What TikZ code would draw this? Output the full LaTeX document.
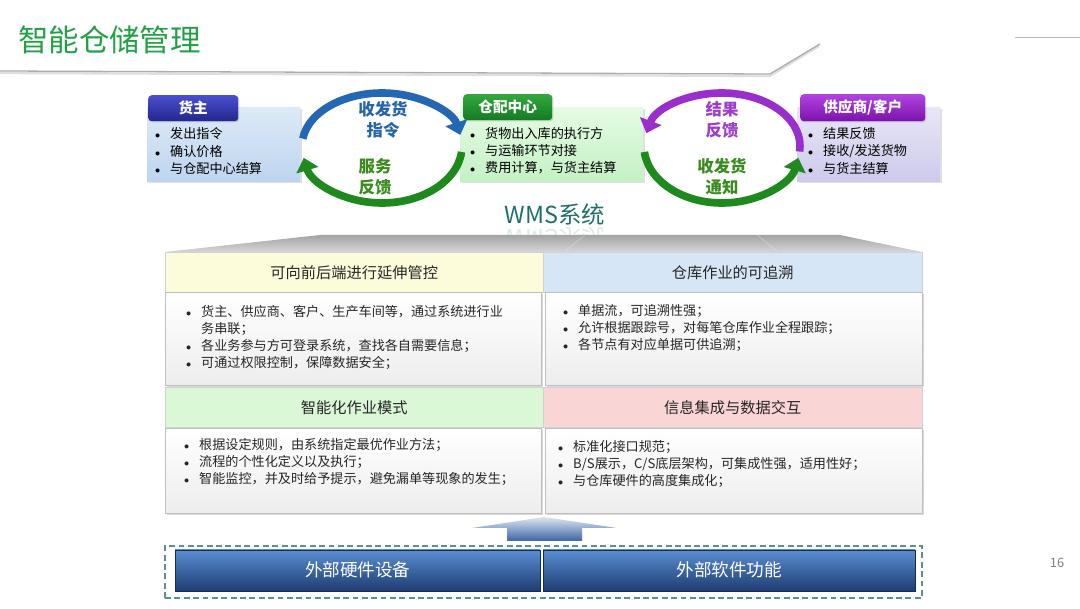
\documentclass[tikz,border=0pt]{standalone}
\usepackage{fontspec}
\setmainfont{Noto Sans CJK SC}
\usepackage{xcolor}
\usetikzlibrary{positioning,arrows.meta,shadows}

\definecolor{titlegreen}{HTML}{22A046}
\definecolor{ownerA}{HTML}{4A4FD0}
\definecolor{ownerB}{HTML}{23268C}
\definecolor{ownerbodyA}{HTML}{DDEAF8}
\definecolor{ownerbodyB}{HTML}{BDD5EF}
\definecolor{hubA}{HTML}{33A83F}
\definecolor{hubB}{HTML}{147A22}
\definecolor{hubbodyA}{HTML}{E5FBE5}
\definecolor{hubbodyB}{HTML}{C4F1C4}
\definecolor{suppA}{HTML}{B244E0}
\definecolor{suppB}{HTML}{7C12AE}
\definecolor{suppbodyA}{HTML}{E8E6F7}
\definecolor{suppbodyB}{HTML}{CDCAEB}
\definecolor{arcblue}{HTML}{2468B4}
\definecolor{arcgreen}{HTML}{1E8A1E}
\definecolor{arcpurple}{HTML}{9A2ECC}
\definecolor{lblblue}{HTML}{2464A8}
\definecolor{lblgreen}{HTML}{3A8C1E}
\definecolor{lblpurple}{HTML}{9E3CCC}
\definecolor{wmsteal}{HTML}{1E6F6B}
\definecolor{cellyellow}{HTML}{FDFCDA}
\definecolor{cellblue}{HTML}{D7E6F6}
\definecolor{cellgreen}{HTML}{DAF7D6}
\definecolor{cellpink}{HTML}{F9D5D5}
\definecolor{dashteal}{HTML}{5E8E8E}
\definecolor{barA}{HTML}{5A8ED3}
\definecolor{barB}{HTML}{1E3D72}
\definecolor{upA}{HTML}{DCE6F2}
\definecolor{upB}{HTML}{3E64A2}

\newcommand\Itm[1]{\makebox[12.75pt][l]{\scalebox{0.8}{$\bullet$}}#1}
\newcommand\Cnt[1]{\hspace*{12.75pt}#1}

\begin{document}
\begin{tikzpicture}[x=0.03cm,y=0.03cm,
        font=\fontsize{11.2}{14.6}\selectfont,
        rolebody/.style={anchor=north west,minimum height=74*0.03cm,
            drop shadow={opacity=0.25,shadow xshift=1.5pt,shadow yshift=-1.5pt}},
        rolehead/.style={anchor=north west,rounded corners=3pt,
            minimum height=26*0.03cm,text=white,
            font=\fontsize{12.5}{14}\selectfont\bfseries,
            drop shadow={opacity=0.3,shadow xshift=1pt,shadow yshift=-1pt}},
        roleitems/.style={anchor=west,align=left,inner sep=0pt},
        cycline/.style={line width=\ArcW pt,-{Triangle[width=19pt,length=11pt]}},
        cyclabel/.style={align=center,font=\fontsize{14}{18}\selectfont\bfseries},
        cellhead/.style={anchor=north west,draw=gray!35,minimum height=40*0.03cm,
            font=\fontsize{13}{15}\selectfont,text=black!85},
        cellbody/.style={anchor=north west,draw=gray!50,
            top color=white,bottom color=gray!14,
            drop shadow={opacity=0.3,shadow xshift=1.5pt,shadow yshift=-1.5pt}},
        cellitems/.style={anchor=west,align=left,inner sep=0pt,text=black!85},
        extbar/.style={anchor=south west,minimum height=41*0.03cm,
            draw=barB!70!black,top color=barA,bottom color=barB,text=white,
            font=\fontsize{15}{17}\selectfont},
    ]
    \useasboundingbox (0,0) rectangle (1080,608);
    \pgfmathsetmacro\ArcW{6.5}
    %
        % Titolo
    \node[anchor=west,text=titlegreen,font=\fontsize{26}{30}\selectfont] (title) at (14,568) {智能仓储管理};
    \draw[gray!25,line width=2pt] (0,535) -- (770,532) -- (819,562);
    \draw[gray!65,line width=1.1pt] (0,537) -- (770,534) -- (820,564);
    \draw[gray!55,line width=0.6pt] (1015,571) -- (1080,571);
    \node[text=gray,font=\fontsize{11}{13}\selectfont] (pagenum) at (1057,45) {16};
    %
        %货主
    \node[rolebody,minimum width=153*0.03cm,top color=ownerbodyA,bottom color=ownerbodyB] (ownerbody) at (147,501) {};
    \node[rolehead,minimum width=90*0.03cm,top color=ownerA,bottom color=ownerB] (ownerhead) at (148,513) {货主};
    \node[roleitems] (owneritems) at (155,457) {\Itm{发出指令}\\\Itm{确认价格}\\\Itm{与仓配中心结算}};
    %
        % 仓配中心
    \node[rolebody,minimum width=183*0.03cm,top color=hubbodyA,bottom color=hubbodyB] (hubbody) at (460,501) {};
    \node[rolehead,minimum width=89*0.03cm,top color=hubA,bottom color=hubB] (hubhead) at (463,514) {仓配中心};
    \node[roleitems] (hubitems) at (470,457) {\Itm{货物出入库的执行方}\\\Itm{与运输环节对接}\\\Itm{费用计算，与货主结算}};
    %
        % 供应商/客户
    \node[rolebody,minimum width=143*0.03cm,top color=suppbodyA,bottom color=suppbodyB] (suppbody) at (797,501) {};
    \node[rolehead,minimum width=125*0.03cm,minimum height=27*0.03cm,top color=suppA,bottom color=suppB] (supphead) at (800,514) {供应商/客户};
    \node[roleitems] (suppitems) at (808,457) {\Itm{结果反馈}\\\Itm{接收/发送货物}\\\Itm{与货主结算}};
    %
        % Frecce circolari
    \coordinate (cycA) at (382,462);
    \coordinate (cycB) at (722,462);
    \draw[cycline,arcblue] (cycA) ++(172:80 and 53) arc[start angle=172,end angle=12,x radius=80,y radius=53];
    \draw[cycline,arcgreen] (cycA) ++(-6:80 and 57) arc[start angle=-6,end angle=-168,x radius=80,y radius=57];
    \draw[cycline,arcpurple] (cycB) ++(-6:78 and 53) arc[start angle=-6,end angle=166,x radius=78,y radius=53];
    \draw[cycline,arcgreen] (cycB) ++(186:78 and 57) arc[start angle=186,end angle=348,x radius=78,y radius=57];
    \node[cyclabel,text=lblblue] (orderlbl) at (383,488.5) {收发货\\指令};
    \node[cyclabel,text=lblgreen] (servlbl) at (375,431.5) {服务\\反馈};
    \node[cyclabel,text=lblpurple] (resultlbl) at (722,488) {结果\\反馈};
    \node[cyclabel,text=lblgreen] (noticelbl) at (722,431.5) {收发货\\通知};
    %
        % WMS
    \node[text=wmsteal,font=\fontsize{20}{22}\selectfont] (wms) at (555,393) {WMS系统};
    \node[text=wmsteal,font=\fontsize{20}{22}\selectfont,yscale=-1,opacity=0.15] (wmsmirror) at (555,370) {WMS系统};
    \shade[top color=gray!72,bottom color=gray!32] (165,356) -- (320,373) -- (840,373) -- (922,356) -- cycle;
    \draw[white,opacity=0.35,line width=0.6pt] (565,357) -- (585,373);
    \draw[white,opacity=0.35,line width=0.6pt] (777,357) -- (757,373);
    %
        % Griglia
    \node[cellhead,minimum width=378*0.03cm,fill=cellyellow] (ctrlhead) at (165,356) {可向前后端进行延伸管控};
    \node[cellhead,minimum width=379*0.03cm,fill=cellblue] (tracehead) at (543,356) {仓库作业的可追溯};
    \node[cellbody,minimum width=376*0.03cm,minimum height=93*0.03cm] (ctrlbody) at (165,316) {};
    \node[cellbody,minimum width=377*0.03cm,minimum height=93*0.03cm] (tracebody) at (545,316) {};
    \node[cellhead,minimum width=378*0.03cm,fill=cellgreen] (smarthead) at (165,221) {智能化作业模式};
    \node[cellhead,minimum width=379*0.03cm,fill=cellpink] (infohead) at (543,221) {信息集成与数据交互};
    \node[cellbody,minimum width=376*0.03cm,minimum height=85*0.03cm] (smartbody) at (165,180) {};
    \node[cellbody,minimum width=377*0.03cm,minimum height=85*0.03cm] (infobody) at (545,180) {};
    %
    \node[cellitems] (ctrlitems) at (186,270.5) {\Itm{货主、供应商、客户、生产车间等，通过系统进行业}\\\Cnt{务串联；}\\\Itm{各业务参与方可登录系统，查找各自需要信息；}\\\Itm{可通过权限控制，保障数据安全；}};
    \node[cellitems] (traceitems) at (563,280) {\Itm{单据流，可追溯性强；}\\\Itm{允许根据跟踪号，对每笔仓库作业全程跟踪；}\\\Itm{各节点有对应单据可供追溯；}};
    \node[cellitems] (smartitems) at (184,146) {\Itm{根据设定规则，由系统指定最优作业方法；}\\\Itm{流程的个性化定义以及执行；}\\\Itm{智能监控，并及时给予提示，避免漏单等现象的发生；}};
    \node[cellitems] (infoitems) at (558,144) {\Itm{标准化接口规范；}\\\Itm{B/S展示，C/S底层架构，可集成性强，适用性好；}\\\Itm{与仓库硬件的高度集成化；}};
    %
        % Freccia verso l'alto
    \shade[top color=upA,bottom color=upB] (507,67) -- (507,80) -- (472,80) -- (544,91) -- (617,80) -- (582,80) -- (582,67) -- cycle;
    %
        % Sistemi esterni
    \draw[dashteal,line width=1.2pt,dash pattern=on 5pt off 3pt] (165,10) rectangle (922,62);
    \node[extbar,minimum width=365*0.03cm] (hwbar) at (175,17) {外部硬件设备};
    \node[extbar,minimum width=372*0.03cm] (swbar) at (543,17) {外部软件功能};
\end{tikzpicture}
\end{document}
